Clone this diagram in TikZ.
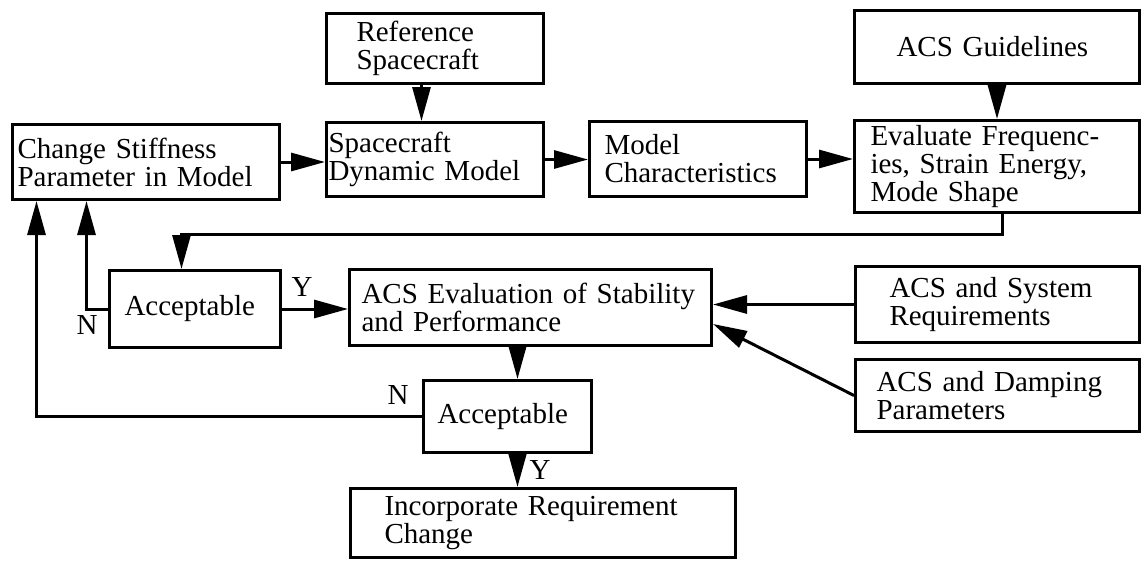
\documentclass[tikz,border=0pt]{standalone}
\usepackage{fontspec}
\setmainfont{Liberation Serif}
\usetikzlibrary{arrows.meta}
\tikzset{
	box/.style={draw,line width=3pt,anchor=north west,align=left,inner ysep=0pt},
	flow/.style={line width=3pt,-{Triangle[length=34pt,width=18pt]}}
}
\begin{document}
\begin{tikzpicture}[x=1pt,y=-1pt,font=\fontsize{29pt}{28pt}\selectfont]
				\useasboundingbox(0,0)rectangle(1141,560);
				\node[box,minimum width=217pt,minimum height=70pt,inner xsep=30pt,text width=157pt](ref)at(325,12){Reference\\Spacecraft};
				\node[box,minimum width=217pt,minimum height=74pt,inner xsep=2pt,text width=213pt](sdm)at(325,121){Spacecraft\\Dynamic Model};
				\node[box,minimum width=267pt,minimum height=75pt,inner xsep=5pt,text width=257pt](stiff)at(11,123){Change Stiffness\\Parameter in Model};
				\node[box,minimum width=217pt,minimum height=75pt,inner xsep=15pt,text width=187pt](mc)at(588,120){Model\\Characteristics};
				\node[box,minimum width=285pt,minimum height=73pt,inner xsep=42pt,text width=201pt](guide)at(853,9){ACS Guidelines};
				\node[box,minimum width=285pt,minimum height=92pt,inner xsep=16pt,text width=253pt](eval)at(853,119){Evaluate Frequenc-\\ies, Strain Energy,\\Mode Shape};
				\node[box,minimum width=171pt,minimum height=77pt,inner xsep=15pt,text width=141pt](acc1)at(108,269){Acceptable};
				\node[box,minimum width=362pt,minimum height=76pt,inner xsep=12pt,text width=338pt](acs)at(348,268){ACS Evaluation of Stability\\and Performance};
				\node[box,minimum width=284pt,minimum height=76pt,inner xsep=34pt,text width=216pt](sysreq)at(854,265){ACS and System\\Requirements};
				\node[box,minimum width=284pt,minimum height=72pt,inner xsep=21pt,text width=242pt](damp)at(854,358){ACS and Damping\\Parameters};
				\node[box,minimum width=168pt,minimum height=72pt,inner xsep=14pt,text width=140pt](acc2)at(422,379){Acceptable};
				\node[box,minimum width=385pt,minimum height=69pt,inner xsep=34pt,text width=317pt](inc)at(349,487){Incorporate Requirement\\Change};
				\node(yes1)at(302,287){Y};
				\node(no1)at(87,325){N};
				\node(no2)at(398,395){N};
				\node(yes2)at(540,470){Y};
				\draw[flow]([xshift=-13.5pt]ref.south)--([xshift=-13.5pt]sdm.north);
				\draw[flow](stiff.east)--(stiff.east-|sdm.west);
				\draw[flow](sdm.east)--(sdm.east-|mc.west);
				\draw[flow](mc.east)--(mc.east-|eval.west);
				\draw[flow](guide.south)--(eval.north);
				\draw[flow]([xshift=5.5pt]eval.south)--++(0,20)-|([xshift=-13.5pt]acc1.north);
				\draw[flow](acc1.west)-|([xshift=-59.5pt]stiff.south);
				\draw[flow](acc2.west)-|([xshift=-109.5pt]stiff.south);
				\draw[flow](acc1.east)--(acc1.east-|acs.west);
				\draw[flow](sysreq.west)--(sysreq.west-|acs.east);
				\draw[flow](damp.west)--([yshift=-16.5pt]acs.east);
				\draw[flow]([xshift=-13pt]acs.south)--([xshift=-13pt]acs.south|-acc2.north);
				\draw[flow]([xshift=10pt]acc2.south)--([xshift=10pt]acc2.south|-inc.north);
			\end{tikzpicture}
\end{document}
